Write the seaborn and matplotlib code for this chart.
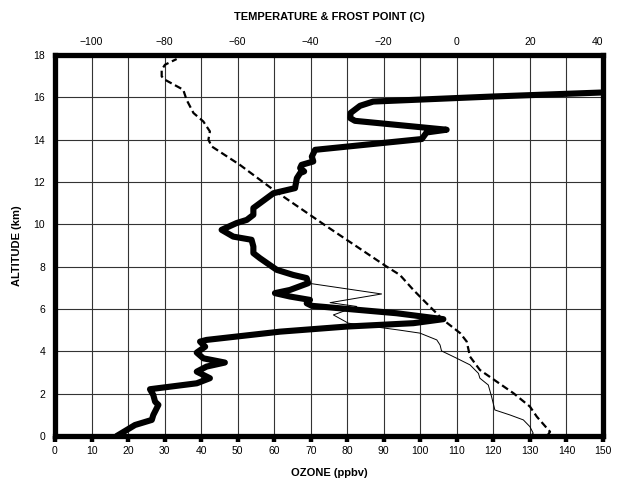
import numpy as np
import pandas as pd
import seaborn as sns
import matplotlib.pyplot as plt

# Ozone profile (ppbv vs km)
ozone_ppbv = [16.9, 19.6, 21.9, 26.5, 26.9, 28.3, 27.4, 26.9, 26.0, 27.8,
              38.8, 42.4, 38.8, 41.5, 46.5, 40.6, 38.8, 41.1, 39.7, 41.5,
              61.6, 79.8, 98.1, 106.3, 93.5, 70.3, 68.9, 69.8, 64.3, 60.2,
              64.3, 69.3, 68.9, 65.2, 60.7, 56.1, 54.3, 54.3, 53.8, 48.8,
              45.6, 49.7, 52.5, 54.3, 54.3, 59.8, 65.7, 66.2, 67.1, 68.2,
              67.1, 67.5, 70.7, 70.3, 71.2, 100.4, 101.7, 107.2, 82.1, 80.8,
              80.9, 83.5, 87.1, 120.0, 150.0]
ozone_alt = [0.0, 0.28, 0.52, 0.76, 0.99, 1.47, 1.62, 1.94, 2.21, 2.25,
             2.49, 2.73, 3.04, 3.28, 3.47, 3.67, 3.94, 4.22, 4.46, 4.54,
             4.93, 5.17, 5.33, 5.52, 5.8, 6.15, 6.27, 6.43, 6.59, 6.75,
             6.9, 7.22, 7.46, 7.61, 7.85, 8.4, 8.64, 8.95, 9.27, 9.42,
             9.74, 10.06, 10.21, 10.45, 10.77, 11.47, 11.71, 12.18, 12.42, 12.5,
             12.66, 12.81, 12.97, 13.2, 13.52, 14.03, 14.34, 14.47, 14.89, 15.02,
             15.26, 15.6, 15.8, 16.04, 16.23]

# Temperature (C)
temp_c = [24.7, 25.5, 21.9, 20.0, 15.5, 10.9, 6.3, 3.6, 2.7, 0.9,
          -3.7, -8.3, -11.9, -15.6, -19.2, -35.6, -50.2, -59.4, -67.1, -68.0,
          -67.6, -69.4, -72.1, -74.0, -74.9, -79.9, -80.8, -80.8, -79.9, -76.7]
temp_alt = [0.0, 0.2, 0.91, 1.39, 2.02, 2.57, 3.12, 3.75, 4.46, 4.86,
            5.48, 6.27, 6.9, 7.61, 8.0, 9.9, 11.63, 12.81, 13.68, 14.0,
            14.39, 14.86, 15.26, 15.89, 16.36, 16.83, 16.99, 17.3, 17.54, 17.81]

# Frost point (C)
frost_c = [19.9, 20.9, 20.0, 18.2, 14.6, 10.4, 9.5, 8.6, 6.3, 5.9,
           3.6, 0.0, -4.2, -4.6, -5.5, -10.1, -15.6, -29.7, -33.8, -27.4,
           -34.7, -20.6, -40.7]
frost_alt = [0.0, 0.13, 0.44, 0.76, 0.99, 1.23, 1.86, 2.41, 2.73, 2.96,
             3.36, 3.67, 4.02, 4.3, 4.54, 4.86, 5.0, 5.33, 5.72, 6.12,
             6.3, 6.71, 7.22]

ozone_ticks = list(range(0, 151, 10))
alt_ticks = list(range(0, 19, 2))
temp_ticks = list(range(-100, 41, 20))

sns.set_style('white')
plt.rcParams['font.family'] = ['Liberation Sans', 'DejaVu Sans']
plt.rcParams['text.color'] = 'black'
plt.rcParams['axes.labelcolor'] = 'black'
plt.rcParams['xtick.color'] = 'black'
plt.rcParams['ytick.color'] = 'black'

df_oz = pd.DataFrame({'ozone': ozone_ppbv, 'alt': ozone_alt})
df_t = pd.DataFrame({'temp': temp_c, 'alt': temp_alt})
df_f = pd.DataFrame({'temp': frost_c, 'alt': frost_alt})

fig = plt.figure(figsize=(6.18, 4.83), dpi=100)
ax = fig.add_axes([55 / 618, 1 - 436 / 483, 548 / 618, 381 / 483])

# grid first so lines sit above
ax.set_axisbelow(True)
ax.grid(True, color='#333333', linewidth=0.8)

sns.lineplot(data=df_oz, x='ozone', y='alt', sort=False, estimator=None,
             ax=ax, color='black', linewidth=4.4,
             solid_joinstyle='round', solid_capstyle='round', zorder=3)

ax.set_xlim(0, 150)
ax.set_ylim(0, 18)
ax.set_xticks(ozone_ticks)
ax.set_yticks(alt_ticks)
ax.tick_params(axis='both', direction='out', length=4.5, width=3.2,
               labelsize=7.5, pad=2.5, color='black', labelcolor='black')
ax.set_xlabel('OZONE (ppbv)', fontsize=8, fontweight='bold', labelpad=9,
              color='black')
ax.set_ylabel('ALTITUDE (km)', fontsize=8, fontweight='bold', labelpad=8,
              color='black')
for s in ax.spines.values():
    s.set_linewidth(3.8)
    s.set_color('black')
    s.set_zorder(5)

ax2 = ax.twiny()
sns.lineplot(data=df_t, x='temp', y='alt', sort=False, estimator=None,
             ax=ax2, color='black', linewidth=1.6, dashes=False, zorder=4)
ax2.lines[-1].set_dashes((3.2, 1.7))
sns.lineplot(data=df_f, x='temp', y='alt', sort=False, estimator=None,
             ax=ax2, color='black', linewidth=0.7, zorder=4)
ax2.set_xlim(-110, 40)
ax2.set_ylim(0, 18)
ax2.set_xticks(temp_ticks)
ax2.tick_params(axis='x', length=0, labelsize=7.5, pad=6, labelcolor='black')
ax2.get_xticklabels()[-1].set_horizontalalignment('right')
ax2.set_xlabel('TEMPERATURE & FROST POINT (C)', fontsize=8,
               fontweight='bold', labelpad=12, color='black')
ax2.set_ylabel('')
for s in ax2.spines.values():
    s.set_visible(False)

fig.savefig('out.png', dpi=100)
